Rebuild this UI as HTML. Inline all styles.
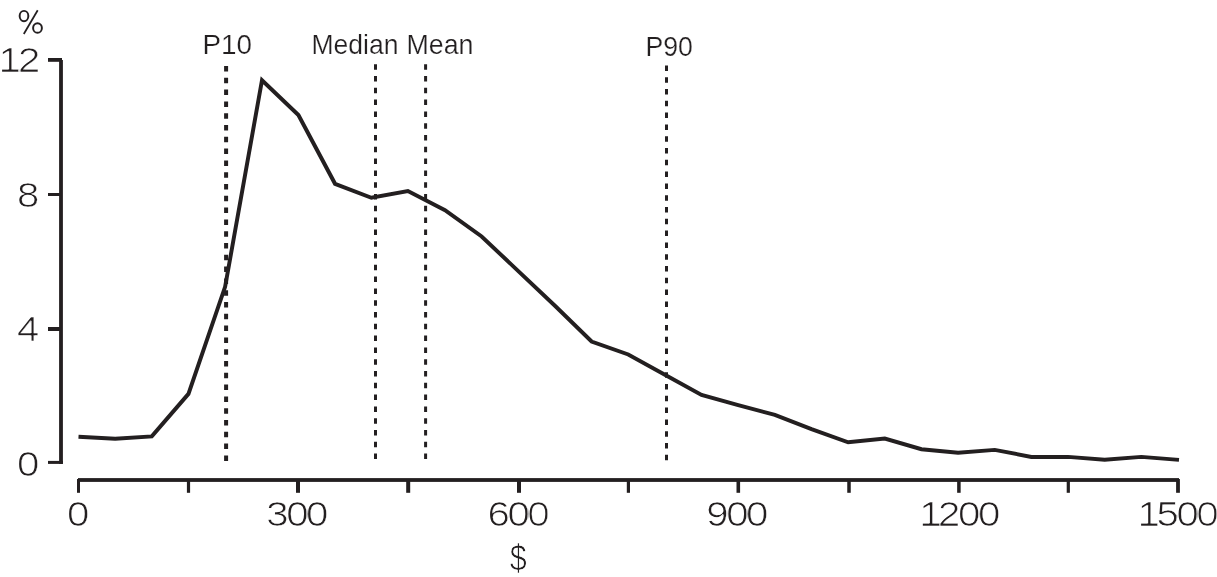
<!DOCTYPE html>
<html>
<head>
<meta charset="utf-8">
<title>Distribution chart</title>
<style>
html,body{margin:0;padding:0;background:#fff;}
body{width:1217px;height:577px;overflow:hidden;position:relative;font-family:"Liberation Sans",sans-serif;}
svg{position:absolute;left:0;top:0;display:block;will-change:transform;}
text{font-family:"Liberation Sans",sans-serif;fill:#231f20;stroke:#fff;paint-order:fill stroke;}
</style>
</head>
<body>
<svg width="1217" height="577" viewBox="0 0 1217 577">
  <rect x="0" y="0" width="1217" height="577" fill="#ffffff"/>

  <!-- axes -->
  <g fill="#231f20">
    <rect x="59.1" y="60" width="3.8" height="403.9"/>
    <rect x="48" y="58" width="14" height="3.8"/>
    <rect x="48" y="193" width="12" height="3"/>
    <rect x="48" y="327" width="12" height="4"/>
    <rect x="48" y="460.9" width="14.9" height="3"/>
    <rect x="78" y="478.1" width="1101" height="3.8"/>
    <rect x="77" y="479" width="3" height="13.8"/>
    <rect x="186.9" y="479" width="3.2" height="13.8"/>
    <rect x="296" y="479" width="4" height="13.8"/>
    <rect x="406.2" y="479" width="4" height="13.8"/>
    <rect x="517" y="479" width="4" height="13.8"/>
    <rect x="626.8" y="479" width="3.2" height="13.8"/>
    <rect x="736.5" y="479" width="3.6" height="13.8"/>
    <rect x="847.25" y="479" width="3.5" height="13.8"/>
    <rect x="957.15" y="479" width="3.5" height="13.8"/>
    <rect x="1066.7" y="479" width="3.2" height="13.8"/>
    <rect x="1176.1" y="479" width="3.8" height="13.8"/>
  </g>

  <!-- dotted reference lines -->
  <g stroke="#231f20" fill="none" stroke-dasharray="5.5 6.3">
    <line x1="226.1" y1="66" x2="226.1" y2="461.2" stroke-width="4"/>
    <line x1="375.5" y1="64.2" x2="375.5" y2="459.2" stroke-width="3"/>
    <line x1="425.6" y1="64.2" x2="425.6" y2="459.2" stroke-width="3"/>
    <line x1="666.5" y1="65.4" x2="666.5" y2="460.2" stroke-width="3"/>
  </g>

  <!-- data line -->
  <polyline fill="none" stroke="#231f20" stroke-width="3.95" stroke-linejoin="miter" stroke-linecap="butt"
    points="78.5,436.75 115.15,438.8 151.8,436.4 188.45,393.9 225.1,286.8 262,80.2 298.4,115 335.05,183.8 371.4,197.8 407.9,191 445,210.2 481.65,236.5 518.3,271.1 554.95,305.8 591.6,341.5 628.25,354.5 664.9,374.7 701.55,394.9 738.2,405.2 774.85,414.9 811.5,429.2 848.15,442.3 884.8,438.6 921.45,449.2 958.1,452.8 994.75,449.9 1031.4,456.9 1068.05,456.9 1104.7,459.8 1141.35,456.9 1179,459.85"/>

  <defs>
        <clipPath id="c0"><use href="#t0" x="0.88"/></clipPath>
    <clipPath id="c1"><use href="#t1" x="0.88"/></clipPath>
    <clipPath id="c2"><use href="#t2" x="0.88"/></clipPath>
    <clipPath id="c3"><use href="#t3" x="0.88"/></clipPath>
    <clipPath id="c4"><use href="#t4" x="0.88"/></clipPath>
    <clipPath id="c5"><use href="#t5" x="0.88"/></clipPath>
    <clipPath id="c6"><use href="#t6" x="0.88"/></clipPath>
    <clipPath id="c7"><use href="#t7" x="0.88"/></clipPath>
    <clipPath id="c8"><use href="#t8" x="0.88"/></clipPath>
    <clipPath id="c9"><use href="#t9" x="0.88"/></clipPath>
    <clipPath id="c10"><use href="#t10" x="0.15"/></clipPath>
  </defs>

  <!-- percent sign -->
  <g stroke="#231f20" fill="none" aria-label="%">
    <title>%</title>
    <ellipse cx="24.0" cy="16.0" rx="4.35" ry="5.15" stroke-width="1.95"/>
    <ellipse cx="37.5" cy="28.0" rx="4.4" ry="4.85" stroke-width="1.95"/>
    <line x1="37.7" y1="10.3" x2="23.8" y2="34.0" stroke-width="1.75"/>
  </g>

  <!-- labels -->
  <g>
        <g transform="translate(-2.0082,72.2) scale(1.155,1)" clip-path="url(#c0)"><text id="t0" font-size="35" letter-spacing="-2.2" stroke-width="0.28">1<tspan dx="-0.4">2</tspan></text></g>
    <g transform="translate(16.4918,206.8) scale(1.155,1)" clip-path="url(#c1)"><text id="t1" font-size="35" letter-spacing="-2.2" stroke-width="0.28">8</text></g>
    <g transform="translate(16.4918,340.9) scale(1.155,1)" clip-path="url(#c2)"><text id="t2" font-size="35" letter-spacing="-2.2" stroke-width="0.28">4</text></g>
    <g transform="translate(16.3918,476) scale(1.155,1)" clip-path="url(#c3)"><text id="t3" font-size="35" letter-spacing="-2.2" stroke-width="0.28">0</text></g>
    <g transform="translate(66.3918,526.05) scale(1.155,1)" clip-path="url(#c4)"><text id="t4" font-size="35" letter-spacing="-2.2" stroke-width="0.28">0</text></g>
    <g transform="translate(265.692,526.05) scale(1.155,1)" clip-path="url(#c5)"><text id="t5" font-size="35" letter-spacing="-2.2" stroke-width="0.28">300</text></g>
    <g transform="translate(486.992,526.05) scale(1.155,1)" clip-path="url(#c6)"><text id="t6" font-size="35" letter-spacing="-2.2" stroke-width="0.28">600</text></g>
    <g transform="translate(705.692,526.05) scale(1.155,1)" clip-path="url(#c7)"><text id="t7" font-size="35" letter-spacing="-2.2" stroke-width="0.28">900</text></g>
    <g transform="translate(918.692,526.05) scale(1.155,1)" clip-path="url(#c8)"><text id="t8" font-size="35" letter-spacing="-2.2" stroke-width="0.28">1<tspan dx="-0.9">200</tspan></text></g>
    <g transform="translate(1137.09,526.05) scale(1.155,1)" clip-path="url(#c9)"><text id="t9" font-size="35" letter-spacing="-2.2" stroke-width="0.28">1<tspan dx="-0.9">500</tspan></text></g>
    <g transform="translate(509.632,570.85) scale(0.91,1.08)" clip-path="url(#c10)"><text id="t10" font-size="33.5" letter-spacing="0" stroke-width="0.5">$</text></g>
    <text transform="translate(202.5,53.8) scale(1.055,1.02)" font-size="26.4" letter-spacing="0" stroke-width="0.22">P10</text>
    <text transform="translate(311.5,53.8) scale(1.005,1.015)" font-size="26.4" letter-spacing="0" stroke-width="0.22">Median</text>
    <text transform="translate(406.5,53.8) scale(1.015,1.04)" font-size="26.4" letter-spacing="0" stroke-width="0.22">Mean</text>
    <text transform="translate(645.5,55.5) scale(1.01,1.02)" font-size="26.4" letter-spacing="0" stroke-width="0.22">P90</text>
  </g>
</svg>
</body>
</html>
